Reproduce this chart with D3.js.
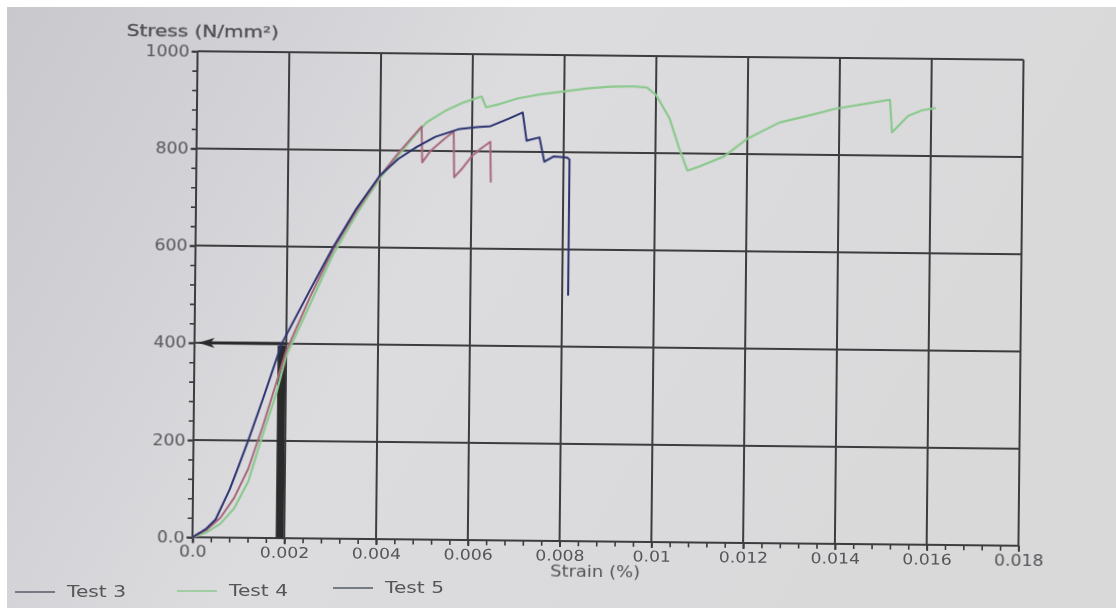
<!DOCTYPE html>
<html>
<head>
<meta charset="utf-8">
<script src="https://cdn.jsdelivr.net/npm/d3@7"></script>
<style>
  html, body { margin: 0; padding: 0; background: #fff; }
  text { font-family: "DejaVu Sans", sans-serif; }
</style>
</head>
<body>
<div id="plot"></div>
<script>
// chart data
const strainTicks = [0, 0.002, 0.004, 0.006, 0.008, 0.01, 0.012, 0.014, 0.016, 0.018];
const strainLabels = ["0.0", "0.002", "0.004", "0.006", "0.008", "0.01", "0.012", "0.014", "0.016", "0.018"];
const stressTicks = [0, 200, 400, 600, 800, 1000];
const stressLabels = ["0.0", "200", "400", "600", "800", "1000"];

const seriesNames = ["Test 3", "Test 4", "Test 5"];

// [strain, stress]
const test3 = [[0,0],[0.0003,15],[0.0006,40],[0.0009,82],[0.0012,142],[0.0015,228],[0.0018,322],[0.002,385],
  [0.0025,495],[0.003,595],[0.0035,675],[0.004,746],[0.0044,795],[0.0049,850],[0.00492,776],[0.0051,800],
  [0.0054,825],[0.0056,840],[0.00562,746],[0.0058,765],[0.006,790],[0.0062,806],[0.0064,820],[0.00642,736]];

const test4 = [[0,0],[0.0003,10],[0.0006,28],[0.0009,60],[0.0012,115],[0.0015,210],[0.0018,300],[0.002,375],
  [0.0025,480],[0.003,585],[0.0035,668],[0.004,742],[0.0044,790],[0.0047,825],[0.005,858],[0.0054,882],
  [0.0058,900],[0.0062,913],[0.0063,891],[0.0066,898],[0.007,910],[0.0075,919],[0.008,925],[0.0085,932],
  [0.009,936],[0.0095,937],[0.0098,935],[0.01,920],[0.0103,872],[0.0105,815],[0.0107,765],[0.011,775],
  [0.0115,795],[0.012,832],[0.0127,866],[0.0133,880],[0.0139,895],[0.0145,905],[0.0151,915],[0.01515,848],
  [0.0155,882],[0.0158,894],[0.0161,899]];

const test5 = [[0,0],[0.0003,18],[0.0005,37],[0.0008,99],[0.001,150],[0.0012,202],[0.0015,285],[0.0019,400],
  [0.0025,510],[0.003,600],[0.0035,680],[0.004,748],[0.0044,783],[0.0048,808],[0.0052,829],[0.0057,845],
  [0.0061,850],[0.0064,852],[0.0068,868],[0.0071,881],[0.00719,823],[0.00747,830],[0.00758,780],
  [0.00778,791],[0.00808,789],[0.00813,785],[0.00813,505]];

// hand drawn marker on the print
const markStrain = 0.0019;
const markStress = 400;

const w = 1116;
const h = 608;
const plot = {left: 195, right: 1021, top: 55.5, bottom: 541.5};
const colors = {"Test 3": "#a8687c", "Test 4": "#8cc98e", "Test 5": "#2c3270"};

const svg = d3.select("div#plot")
  .append("svg")
  .attr("width", w)
  .attr("height", h);

const defs = svg.append("defs");
const grad = defs.append("linearGradient").attr("id", "paper")
  .attr("x1", "0").attr("x2", "1").attr("y1", "0").attr("y2", "0.3");
grad.append("stop").attr("offset", "0").attr("stop-color", "#c8c8cd");
grad.append("stop").attr("offset", "0.45").attr("stop-color", "#dcdcdf");
grad.append("stop").attr("offset", "1").attr("stop-color", "#d9d9da");
defs.append("filter").attr("id", "soft")
  .append("feGaussianBlur").attr("stdDeviation", 0.55);

svg.append("rect")
  .attr("x", 7).attr("y", 7)
  .attr("width", w - 7).attr("height", h - 7)
  .attr("fill", "url(#paper)");

const root = svg.append("g").attr("filter", "url(#soft)");

// the photo is slightly tilted
const chart = root.append("g")
  .attr("transform", "rotate(0.6, 606, 298.5)");

const x = d3.scaleLinear().domain([0, 0.018]).range([plot.left, plot.right]);
const y = d3.scaleLinear().domain([0, 1000]).range([plot.bottom, plot.top]);

const gridColor = "#3d3d3f";

// grid
chart.append("g").selectAll("line")
  .data(strainTicks)
  .join("line")
  .attr("x1", d => x(d)).attr("x2", d => x(d))
  .attr("y1", y(0)).attr("y2", y(1000))
  .attr("stroke", gridColor).attr("stroke-width", 2);

chart.append("g").selectAll("line")
  .data(stressTicks)
  .join("line")
  .attr("x1", x(0)).attr("x2", x(0.018))
  .attr("y1", d => y(d)).attr("y2", d => y(d))
  .attr("stroke", gridColor).attr("stroke-width", 2);

// minor ticks
const yMinor = chart.append("g")
  .attr("transform", `translate(${plot.left},0)`)
  .call(d3.axisLeft(y).tickValues(d3.range(0, 1001, 40)).tickSize(5).tickFormat(""));
yMinor.select(".domain").remove();
yMinor.selectAll("line").attr("stroke", gridColor).attr("stroke-width", 1.6);

const xMinor = chart.append("g")
  .attr("transform", `translate(0,${plot.bottom})`)
  .call(d3.axisBottom(x).tickValues(d3.range(0, 46).map(i => i * 0.0004)).tickSize(5).tickFormat(""));
xMinor.select(".domain").remove();
xMinor.selectAll("line").attr("stroke", gridColor).attr("stroke-width", 1.6);

// major axes with labels
const yAxis = chart.append("g")
  .attr("transform", `translate(${plot.left},0)`)
  .call(d3.axisLeft(y).tickValues(stressTicks).tickSize(6)
    .tickFormat((d, i) => stressLabels[i]));
yAxis.select(".domain").remove();
yAxis.selectAll("line").attr("stroke", gridColor).attr("stroke-width", 2);
yAxis.selectAll("text")
  .attr("fill", "#555559")
  .attr("font-size", 15)
  .attr("x", -7)
  .attr("transform", "scale(1.15,1)");

const xAxis = chart.append("g")
  .attr("transform", `translate(0,${plot.bottom})`)
  .call(d3.axisBottom(x).tickValues(strainTicks).tickSize(6)
    .tickFormat((d, i) => strainLabels[i]));
xAxis.select(".domain").remove();
xAxis.selectAll("line").attr("stroke", gridColor).attr("stroke-width", 2);
xAxis.selectAll("text")
  .attr("fill", "#555559")
  .attr("font-size", 15)
  .attr("y", 9)
  .attr("transform", "scale(1.15,1)");

chart.append("text")
  .attr("x", 124).attr("y", 41)
  .attr("font-size", 15)
  .attr("fill", "#505054")
  .attr("stroke", "#505054")
  .attr("stroke-width", 0.3)
  .attr("textLength", 152)
  .attr("lengthAdjust", "spacingAndGlyphs")
  .text("Stress (N/mm²)");

chart.append("text")
  .attr("x", 598).attr("y", 577)
  .attr("font-size", 15)
  .attr("text-anchor", "middle")
  .attr("fill", "#555559")
  .attr("textLength", 90)
  .attr("lengthAdjust", "spacingAndGlyphs")
  .text("Strain (%)");

// marker bar and arrow pointing at the stress axis
const markColor = "#2a2a2c";
chart.append("line")
  .attr("x1", x(markStrain)).attr("x2", x(markStrain))
  .attr("y1", y(0)).attr("y2", y(markStress) + 2)
  .attr("stroke", markColor).attr("stroke-width", 8);

chart.append("line")
  .attr("x1", x(markStrain) + 4).attr("x2", x(0) + 14)
  .attr("y1", y(markStress)).attr("y2", y(markStress))
  .attr("stroke", markColor).attr("stroke-width", 3);

const tipX = x(0) + 4;
const tipY = y(markStress);
chart.append("path")
  .attr("d", `M${tipX},${tipY} L${tipX + 16},${tipY - 5} L${tipX + 12},${tipY} L${tipX + 16},${tipY + 5} Z`)
  .attr("fill", markColor);

// curves
const line = d3.line().x(d => x(d[0])).y(d => y(d[1]));
const series = [
  {name: "Test 4", values: test4},
  {name: "Test 3", values: test3},
  {name: "Test 5", values: test5}
];

chart.append("g").selectAll("path")
  .data(series)
  .join("path")
  .attr("d", d => line(d.values))
  .attr("fill", "none")
  .attr("stroke", d => colors[d.name])
  .attr("stroke-width", d => d.name === "Test 4" ? 2.2 : 2)
  .attr("stroke-linejoin", "round");

// legend
const legendPos = [[15, 592], [177, 591], [333, 588]];
const legend = root.append("g").selectAll("g")
  .data(seriesNames)
  .join("g")
  .attr("transform", (d, i) => `translate(${legendPos[i][0]},${legendPos[i][1]})`);

legend.append("line")
  .attr("x1", 0).attr("x2", 40)
  .attr("stroke", d => d === "Test 4" ? colors[d] : "#555a66")
  .attr("stroke-width", 1.4);

legend.append("text")
  .attr("x", 52).attr("y", 5)
  .attr("font-size", 15)
  .attr("fill", "#555559")
  .attr("textLength", 59)
  .attr("lengthAdjust", "spacingAndGlyphs")
  .text(d => d);
</script>
</body>
</html>
